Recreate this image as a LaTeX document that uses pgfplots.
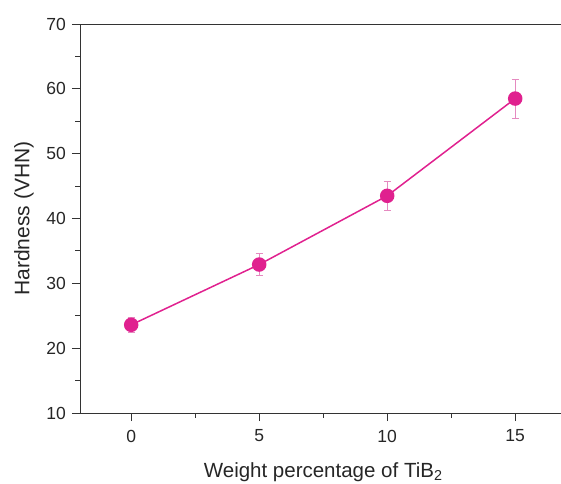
\documentclass[border=0pt]{standalone}
\usepackage{pgfplots}
\pgfplotsset{compat=1.18}
\usepackage{fontspec}
\setmainfont{Liberation Sans}
\definecolor{mag}{HTML}{E0218F}
\definecolor{errc}{HTML}{E58AC0}
\begin{document}
\begin{tikzpicture}[x=1pt,y=1pt]
\useasboundingbox (-80,-70) rectangle (481,413);
\begin{axis}[
  at={(0,0)}, anchor=south west,
  scale only axis,
  width=486.4pt, height=389pt,
  xmin=-2, xmax=17, ymin=10, ymax=70,
  xtick={0,5,10,15}, ytick={10,20,...,70},
  minor xtick={2.5,7.5,12.5},
  minor ytick={15,25,...,65},
  tick pos=left,
  tick align=outside,
  major tick length=8pt, minor tick length=4.5pt,
  axis line style={black!80, line width=0.9pt},
  every tick/.style={black!80, line width=0.9pt},
  /pgf/number format/assume math mode=true,
  ticklabel style={font=\fontsize{17.5}{20}\selectfont, text=black!85},
  xticklabel style={inner sep=0pt, anchor=center, yshift=-15pt},
  yticklabel style={inner sep=0pt, anchor=east, xshift=-6pt},
  xlabel={Weight percentage of TiB\textsubscript{2}},
  ylabel={Hardness (VHN)},
  xlabel style={font=\fontsize{20.5}{24}\selectfont, text=black!85,
    at={(axis description cs:0.5,0)}, anchor=base, yshift=-64pt, inner sep=0pt},
  ylabel style={font=\fontsize{21}{24}\selectfont, text=black!85,
    at={(axis description cs:0,0.5)}, anchor=center, yshift=56pt, inner sep=0pt},
  clip=false,
]
\addplot[mag, line width=1.5pt, mark=*, mark size=6.5pt,
  mark options={fill=mag, draw=mag},
  error bars/.cd, y dir=both, y explicit,
  error bar style={errc, line width=0.8pt},
  error mark options={errc, rotate=90, mark size=3.5pt, line width=0.8pt}]
coordinates {
  (0,23.6) +- (0,1.2)
  (5,32.9) +- (0,1.7)
  (10,43.5) +- (0,2.2)
  (15,58.5) +- (0,3.0)
};
\end{axis}
\end{tikzpicture}
\end{document}
